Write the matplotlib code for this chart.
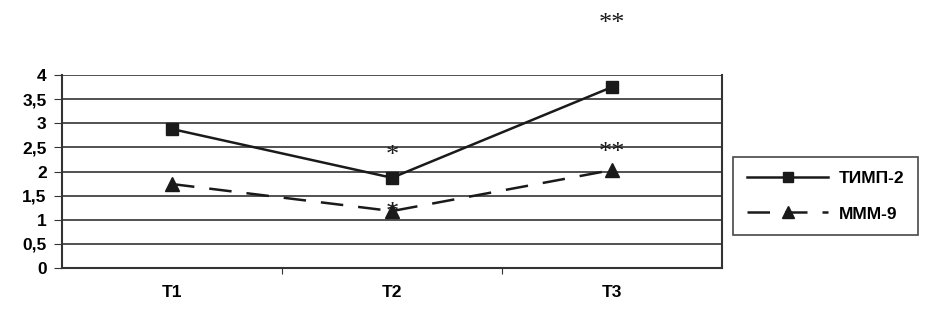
import matplotlib
matplotlib.use("Agg")
import matplotlib.pyplot as plt

categories = ["T1", "T2", "T3"]
timp2 = [2.88, 1.87, 3.75]
mmp9 = [1.74, 1.18, 2.03]
yticks = [0, 0.5, 1, 1.5, 2, 2.5, 3, 3.5, 4]
ytick_labels = ["0", "0,5", "1", "1,5", "2", "2,5", "3", "3,5", "4"]
series_names = ["ТИМП-2", "МММ-9"]

plt.rcParams['font.family'] = ['Liberation Sans', 'DejaVu Sans']

fig = plt.figure(figsize=(9.25, 3.14), dpi=100)
ax = fig.add_axes([62/925, 1-268/314, (722-62)/925, (268-75)/314])

x = [i + 0.5 for i in range(len(categories))]
ax.plot(x, timp2, color='#1a1a1a', lw=1.8, marker='s', ms=9, label=series_names[0])
ax.plot(x, mmp9, color='#1a1a1a', lw=1.8, ls=(0, (9, 6)), marker='^', ms=10, label=series_names[1])

ax.set_xlim(0, 3)
ax.set_ylim(0, 4)
ax.set_yticks(yticks)
ax.set_yticklabels(ytick_labels, fontsize=12.5, fontweight='bold')
ax.set_xticks([1, 2])
ax.set_xticklabels(["", ""])
ax.set_xticks(x, minor=True)
ax.set_xticklabels(categories, minor=True, fontsize=12.5, fontweight='bold')
ax.tick_params(axis='x', which='minor', length=0, pad=12)
ax.tick_params(axis='x', which='major', direction='out', length=4, color='#333333')
ax.tick_params(axis='y', direction='out', length=6, color='#333333', pad=5)
ax.grid(axis='y', color='#333333', lw=1.2)
ax.set_axisbelow(True)
for s in ['left', 'bottom', 'right']:
    ax.spines[s].set_color('#333333')
    ax.spines[s].set_linewidth(1.5)
ax.spines['top'].set_visible(False)

star_kw = dict(ha='center', va='center', fontsize=19, family=['Liberation Serif', 'DejaVu Serif'], color='#1a1a1a')
ax.text(x[1], 2.32, "*", **star_kw)
ax.text(x[1], 1.14, "*", **star_kw)
ax.text(x[2], 2.38, "**", **star_kw)
ax.text(x[2], 5.06, "**", clip_on=False, **star_kw)

leg = ax.legend(loc='center left', bbox_to_anchor=(733/925, 1-196/314), bbox_transform=fig.transFigure,
                frameon=True, fancybox=False, edgecolor='#1a1a1a', handlelength=4.7,
                borderaxespad=0, markerscale=0.8, borderpad=0.8, labelspacing=1.2, handletextpad=0.6,
                prop={'weight': 'bold', 'size': 12.5})
leg.get_frame().set_linewidth(1.2)

fig.savefig("out.png", dpi=100)
